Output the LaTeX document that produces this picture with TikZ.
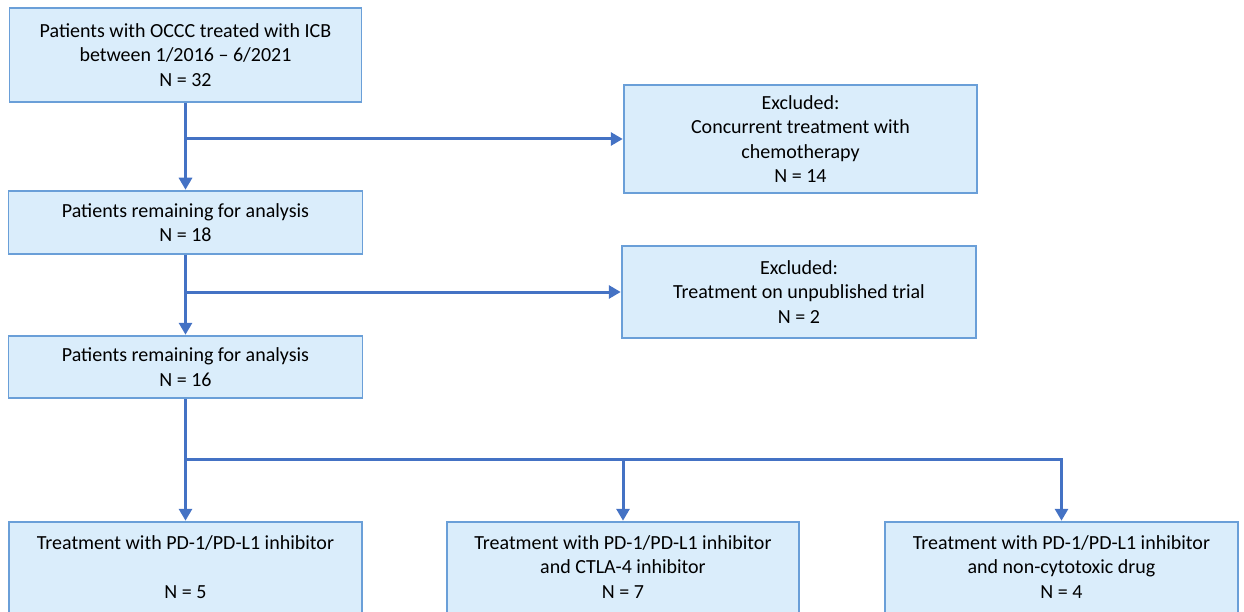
\documentclass[tikz,border=0pt]{standalone}
\usepackage{fontspec}
\setmainfont{Carlito}
\usetikzlibrary{arrows.meta}
\definecolor{boxfill}{HTML}{DAEDFB}
\definecolor{boxline}{HTML}{6A9FD8}
\definecolor{arrcol}{HTML}{4472C4}
\tikzset{
  box/.style={draw=boxline, fill=boxfill, line width=1.5pt, inner sep=0pt, align=center, font=\fontsize{20}{24.5}\selectfont},
  txt/.style={inner sep=0pt, align=center, font=\fontsize{20}{24.5}\selectfont},
  conn/.style={draw=arrcol, line width=3pt},
  arr/.style={conn, -{Triangle[length=12pt,width=13pt]}, shorten >=0.5pt}
}
\begin{document}
\begin{tikzpicture}[x=1pt,y=-1pt]
\useasboundingbox (0,0) rectangle (1244,612);
\node[box, minimum width=352pt, minimum height=94pt] (b1) at (185.5,55) {Patients with OCCC treated with ICB\\between 1/2016 -- 6/2021\\N = 32};
\node[box, minimum width=353pt, minimum height=108pt] (e1) at (800.5,139) {Excluded:\\Concurrent treatment with\\chemotherapy\\N = 14};
\node[box, minimum width=354pt, minimum height=63pt] (b2) at (185.5,222.5) {Patients remaining for analysis\\N = 18};
\node[box, minimum width=354pt, minimum height=92pt] (e2) at (799,292) {Excluded:\\Treatment on unpublished trial\\N = 2};
\node[box, minimum width=354pt, minimum height=62pt] (b3) at (185.5,367) {Patients remaining for analysis\\N = 16};
\node[box, minimum width=353pt, minimum height=100pt] (t1) at (185.5,572) {};
\node[box, minimum width=352pt, minimum height=100pt] (t2) at (623,572) {};
\node[box, minimum width=353pt, minimum height=100pt] (t3) at (1061.5,572) {};
\node[txt] (t1t) at (185.5,567) {Treatment with PD-1/PD-L1 inhibitor\\\mbox{}\\N = 5};
\node[txt] (t2t) at (623,567) {Treatment with PD-1/PD-L1 inhibitor\\and CTLA-4 inhibitor\\N = 7};
\node[txt] (t3t) at (1061.5,567) {Treatment with PD-1/PD-L1 inhibitor\\and non-cytotoxic drug\\N = 4};
\draw[arr] (b1.south) -- (b2.north);
\draw[arr] (b1.south |- e1.west) -- (e1.west);
\draw[arr] (b2.south) -- (b3.north);
\draw[arr] (b2.south |- e2.west) -- (e2.west);
\coordinate (j) at (185.5,459);
\draw[conn] (b3.south) -- (j);
\draw[arr] (j) -- (t1.north);
\draw[arr] (j) -| (t2.north);
\draw[arr] (j) -| (t3.north);
\end{tikzpicture}
\end{document}
